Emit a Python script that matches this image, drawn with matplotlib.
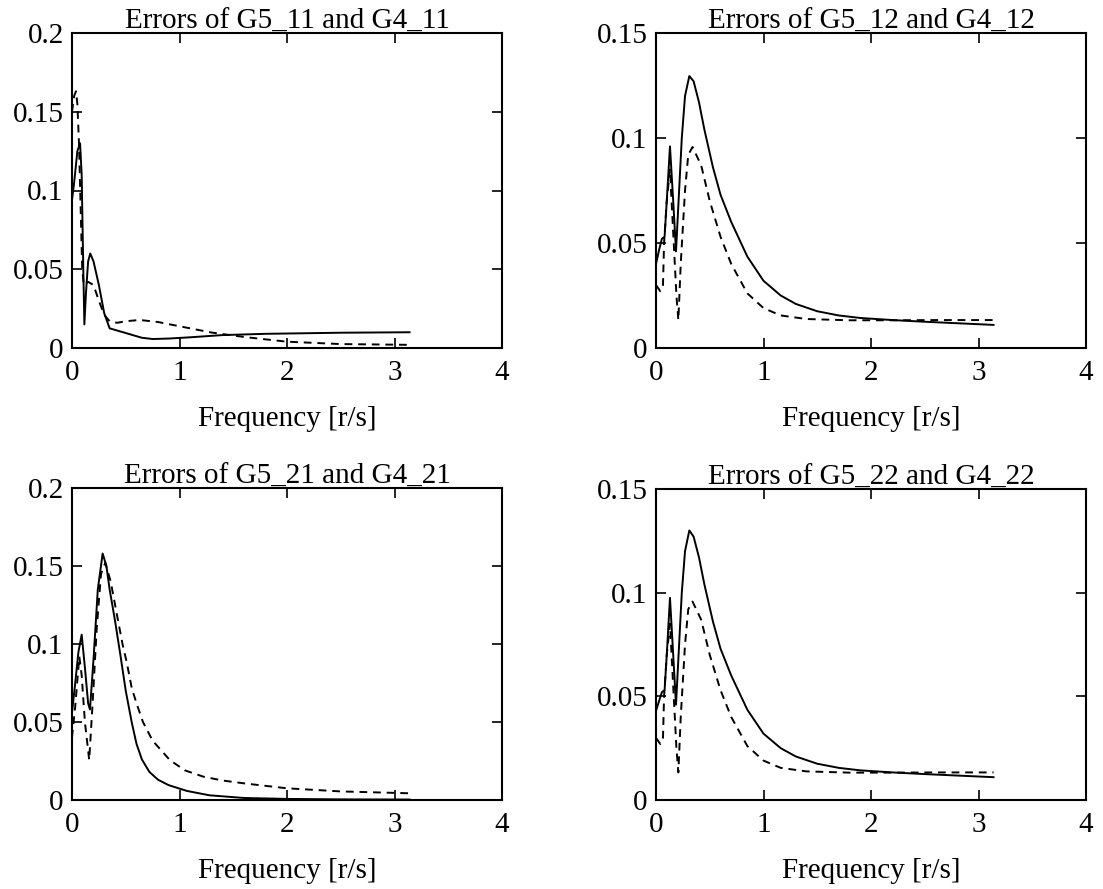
import matplotlib
matplotlib.use('Agg')
import matplotlib.pyplot as plt

# --- data ---
# G5_11 / G4_11
f11_solid = [0.0, 0.02, 0.05, 0.075, 0.09, 0.105, 0.115, 0.13, 0.15, 0.17, 0.2, 0.25, 0.3, 0.35,
             0.45, 0.55, 0.65, 0.75, 0.9, 1.1, 1.4, 1.8, 2.5, 3.14]
e11_solid = [0.094, 0.105, 0.125, 0.13, 0.11, 0.05, 0.015, 0.035, 0.055, 0.06, 0.055, 0.04, 0.022, 0.0125,
             0.0105, 0.0085, 0.0065, 0.0057, 0.006, 0.0068, 0.0082, 0.009, 0.0097, 0.0100]
f11_dash = [0.0, 0.02, 0.037, 0.05, 0.065, 0.08, 0.095, 0.11, 0.15, 0.2, 0.25, 0.3, 0.35, 0.42, 0.5,
            0.63, 0.8, 1.0, 1.3, 1.6, 2.0, 2.5, 3.14]
e11_dash = [0.15, 0.16, 0.163, 0.155, 0.13, 0.09, 0.05, 0.04, 0.042, 0.04, 0.03, 0.021, 0.017, 0.016, 0.017,
            0.0178, 0.0165, 0.0138, 0.0098, 0.007, 0.004, 0.0025, 0.002]

# G5_12 / G4_12
f12_solid = [0.0, 0.03, 0.055, 0.08, 0.1, 0.13, 0.16, 0.186, 0.21, 0.24, 0.27, 0.31, 0.35, 0.4, 0.45,
             0.53, 0.6, 0.7, 0.85, 1.0, 1.16, 1.3, 1.5, 1.7, 1.9, 2.2, 2.5, 2.8, 3.14]
e12_solid = [0.040, 0.047, 0.052, 0.053, 0.07, 0.096, 0.07, 0.046, 0.07, 0.10, 0.12, 0.1295, 0.127, 0.117, 0.104,
             0.086, 0.073, 0.060, 0.0435, 0.032, 0.025, 0.021, 0.0175, 0.0155, 0.0143, 0.0133, 0.0125, 0.0118, 0.011]
f12_dash = [0.0, 0.04, 0.065, 0.075, 0.1, 0.13, 0.16, 0.19, 0.208, 0.23, 0.27, 0.3, 0.34, 0.42, 0.5,
            0.6, 0.7, 0.85, 1.0, 1.16, 1.4, 1.8, 2.2, 2.6, 3.14]
e12_dash = [0.030, 0.027, 0.030, 0.050, 0.07, 0.085, 0.055, 0.025, 0.0133, 0.04, 0.075, 0.092, 0.0957, 0.087, 0.07,
            0.053, 0.040, 0.026, 0.019, 0.0155, 0.0138, 0.0132, 0.0132, 0.0133, 0.0133]

# G5_21 / G4_21
f21_solid = [0.0, 0.03, 0.06, 0.09, 0.12, 0.15, 0.167, 0.2, 0.24, 0.285, 0.32, 0.35, 0.4, 0.45, 0.5,
             0.555, 0.6, 0.65, 0.72, 0.8, 0.9, 1.07, 1.28, 1.6, 2.0, 2.5, 3.14]
e21_solid = [0.056, 0.075, 0.095, 0.106, 0.085, 0.062, 0.058, 0.09, 0.135, 0.158, 0.15, 0.135, 0.115, 0.093, 0.07,
             0.05, 0.036, 0.026, 0.018, 0.013, 0.0095, 0.0058, 0.003, 0.0013, 0.0007, 0.0004, 0.0003]
f21_dash = [0.0, 0.03, 0.068, 0.09, 0.12, 0.16, 0.19, 0.23, 0.27, 0.31, 0.36, 0.42, 0.47, 0.51, 0.555,
            0.6, 0.66, 0.75, 0.91, 1.05, 1.22, 1.4, 1.62, 2.0, 2.5, 3.14]
e21_dash = [0.04, 0.06, 0.092, 0.08, 0.05, 0.0256, 0.06, 0.11, 0.145, 0.152, 0.14, 0.118, 0.1, 0.088, 0.072,
            0.062, 0.05, 0.038, 0.0256, 0.019, 0.015, 0.0125, 0.0105, 0.0075, 0.0055, 0.0043]

# G5_22 / G4_22
f22_solid = [0.0, 0.03, 0.055, 0.08, 0.1, 0.13, 0.16, 0.186, 0.21, 0.24, 0.27, 0.31, 0.35, 0.4, 0.45,
             0.53, 0.6, 0.7, 0.85, 1.0, 1.16, 1.3, 1.5, 1.7, 1.9, 2.2, 2.5, 2.8, 3.14]
e22_solid = [0.043, 0.048, 0.052, 0.053, 0.07, 0.0975, 0.07, 0.046, 0.07, 0.10, 0.12, 0.130, 0.127, 0.117, 0.104,
             0.086, 0.073, 0.060, 0.0435, 0.032, 0.025, 0.021, 0.0175, 0.0155, 0.0143, 0.0133, 0.0125, 0.0118, 0.011]
f22_dash = [0.0, 0.04, 0.065, 0.075, 0.1, 0.13, 0.16, 0.19, 0.208, 0.23, 0.27, 0.3, 0.34, 0.42, 0.5,
            0.6, 0.7, 0.85, 1.0, 1.16, 1.4, 1.8, 2.2, 2.6, 3.14]
e22_dash = [0.030, 0.027, 0.030, 0.050, 0.07, 0.085, 0.055, 0.025, 0.0133, 0.04, 0.075, 0.092, 0.0957, 0.087, 0.07,
            0.053, 0.040, 0.026, 0.019, 0.0155, 0.0138, 0.0132, 0.0132, 0.0133, 0.0133]

titles = ['Errors of G5_11 and G4_11', 'Errors of G5_12 and G4_12',
          'Errors of G5_21 and G4_21', 'Errors of G5_22 and G4_22']
xticks = [0, 1, 2, 3, 4]
yticks_a = [0, 0.05, 0.1, 0.15, 0.2]
ylabels_a = ['0', '0.05', '0.1', '0.15', '0.2']
yticks_b = [0, 0.05, 0.1, 0.15]
ylabels_b = ['0', '0.05', '0.1', '0.15']

plt.rcParams['font.family'] = ['Liberation Serif', 'DejaVu Serif']

W, H = 1103, 889
fig = plt.figure(figsize=(W / 100, H / 100), dpi=100)
fig.patch.set_facecolor('white')

# axes boxes in pixels: left, top, right, bottom
boxes = [(72, 33, 502, 348), (656, 33, 1086, 348),
         (72, 488, 502, 800), (656, 489, 1086, 800)]

panels = [
    (f11_solid, e11_solid, f11_dash, e11_dash, yticks_a, ylabels_a, 0.2),
    (f12_solid, e12_solid, f12_dash, e12_dash, yticks_b, ylabels_b, 0.15),
    (f21_solid, e21_solid, f21_dash, e21_dash, yticks_a, ylabels_a, 0.2),
    (f22_solid, e22_solid, f22_dash, e22_dash, yticks_b, ylabels_b, 0.15),
]

for i, (fs, es, fd, ed, yt, yl, ymax) in enumerate(panels):
    l, t, r, b = boxes[i]
    ax = fig.add_axes([l / W, 1 - b / H, (r - l) / W, (b - t) / H])
    ax.plot(fs, es, color='black', lw=1.4)
    ax.plot(fd, ed, color='black', lw=1.4, ls=(0, (4, 3)))

    ax.set_xlim(0, 4)
    ax.set_ylim(0, ymax)
    ax.set_xticks(xticks)
    ax.set_xticklabels([str(v) for v in xticks])
    ax.set_yticks(yt)
    ax.set_yticklabels(yl)

    ax.tick_params(direction='in', top=True, right=True, length=7, width=1.2,
                   labelsize=21, colors='black')
    ax.tick_params(axis='x', pad=9)
    ax.tick_params(axis='y', pad=6)
    for s in ax.spines.values():
        s.set_linewidth(1.5)

    ax.set_title(titles[i], fontsize=21, pad=3)
    ax.set_xlabel('Frequency [r/s]', fontsize=21, labelpad=14)

fig.savefig('out.png', dpi=100, facecolor='white')
